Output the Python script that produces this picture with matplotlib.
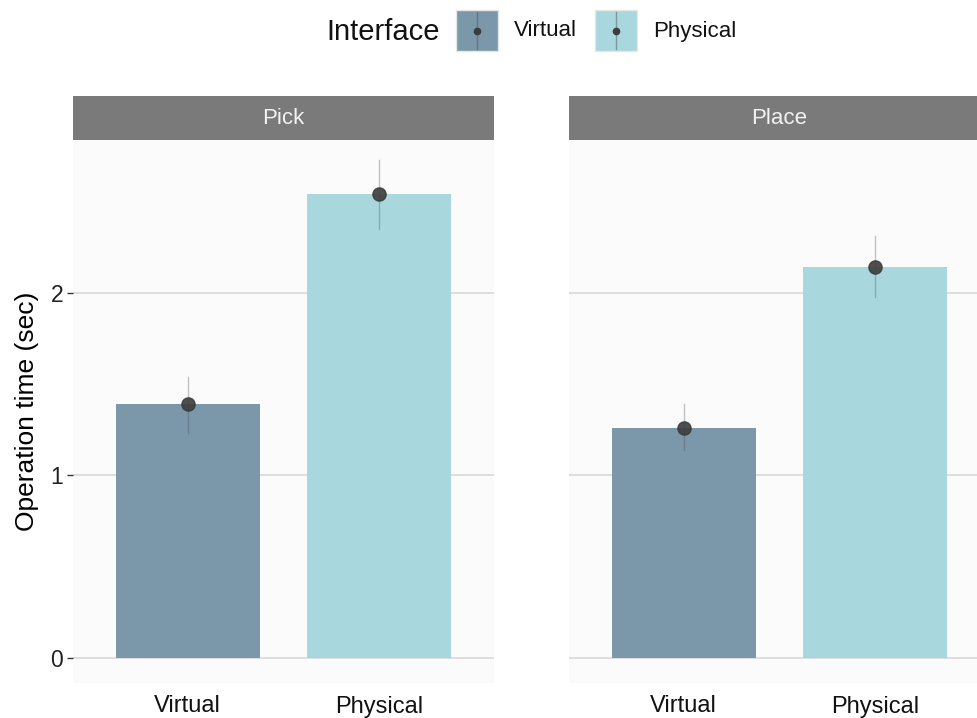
import numpy as np
import matplotlib.pyplot as plt
from matplotlib.patches import Rectangle
from matplotlib.lines import Line2D

plt.rcParams['font.family'] = ['Liberation Sans', 'DejaVu Sans']

# data
panels = ["Pick", "Place"]
interfaces = ["Virtual", "Physical"]
means = {"Pick": [1.39, 2.54], "Place": [1.26, 2.14]}
upper = {"Pick": [1.54, 2.73], "Place": [1.39, 2.31]}
lower = {"Pick": [1.23, 2.35], "Place": [1.14, 1.98]}
yticks = [0, 1, 2]

colors = ["#7B97AA", "#A8D8DE"]
W, H = 977, 718

fig = plt.figure(figsize=(W / 100, H / 100), dpi=100)


def fig_box(x0, y0, x1, y1):
    # pixel box (top-left origin) -> figure coords
    return [x0 / W, 1 - y1 / H, (x1 - x0) / W, (y1 - y0) / H]


panel_x = [(73, 494), (569, 990)]
for i, name in enumerate(panels):
    x0, x1 = panel_x[i]
    ax = fig.add_axes(fig_box(x0, 140, x1, 683))
    ax.set_facecolor("#FBFBFB")
    xs = np.arange(1, len(interfaces) + 1)
    ax.bar(xs, means[name], width=0.75, color=colors, zorder=2)
    for x, m, lo, hi in zip(xs, means[name], lower[name], upper[name]):
        ax.plot([x, x], [lo, hi], color="#555555", lw=1, alpha=0.35, zorder=3)
        ax.plot(x, m, "o", color="#3C3C3C", ms=9.5, alpha=0.9, zorder=4)
    ax.set_xlim(0.4, 2.6)
    ax.set_ylim(-0.137, 2.838)
    ax.set_yticks(yticks)
    ax.grid(axis="y", color="#D9D9D9", lw=1.2, zorder=1)
    ax.set_axisbelow(True)
    ax.set_xticks(xs)
    ax.set_xticklabels(interfaces, fontsize=17, color="#111111")
    ax.tick_params(axis="x", length=0, pad=9)
    if i == 0:
        ax.set_yticklabels([str(t) for t in yticks], fontsize=16.5, color="#222222")
        ax.tick_params(axis="y", length=4, width=1, color="#333333", pad=3)
        ax.set_ylabel("Operation time (sec)", fontsize=19, labelpad=8)
    else:
        ax.tick_params(axis="y", length=0, labelleft=False)
    for s in ax.spines.values():
        s.set_visible(False)

    # facet strip
    sax = fig.add_axes(fig_box(x0, 96, x1, 140))
    sax.set_facecolor("#7A7A7A")
    sax.set_xticks([])
    sax.set_yticks([])
    for s in sax.spines.values():
        s.set_visible(False)
    sax.text(0.5, 0.5, name, ha="center", va="center", color="#F2F2F2",
             fontsize=16, transform=sax.transAxes)

# legend drawn in a pixel-coordinate overlay
lax = fig.add_axes([0, 0, 1, 1], zorder=10)
lax.set_xlim(0, W)
lax.set_ylim(H, 0)
lax.axis("off")
lax.text(440, 32, "Interface", ha="right", va="center", fontsize=21, color="#111111")
key_x = [456, 595]
for kx, lab, c in zip(key_x, interfaces, colors):
    lax.add_patch(Rectangle((kx, 10), 42, 41, facecolor=c, edgecolor="#E6E6E6", lw=1))
    lax.add_line(Line2D([kx + 21, kx + 21], [12, 49], color="#555555", lw=1, alpha=0.5))
    lax.plot(kx + 21, 30.5, "o", color="#3C3C3C", ms=4.5)
    lax.text(kx + 58, 31, lab, ha="left", va="center", fontsize=16, color="#111111")

fig.savefig("out.png", dpi=100, facecolor="white")
